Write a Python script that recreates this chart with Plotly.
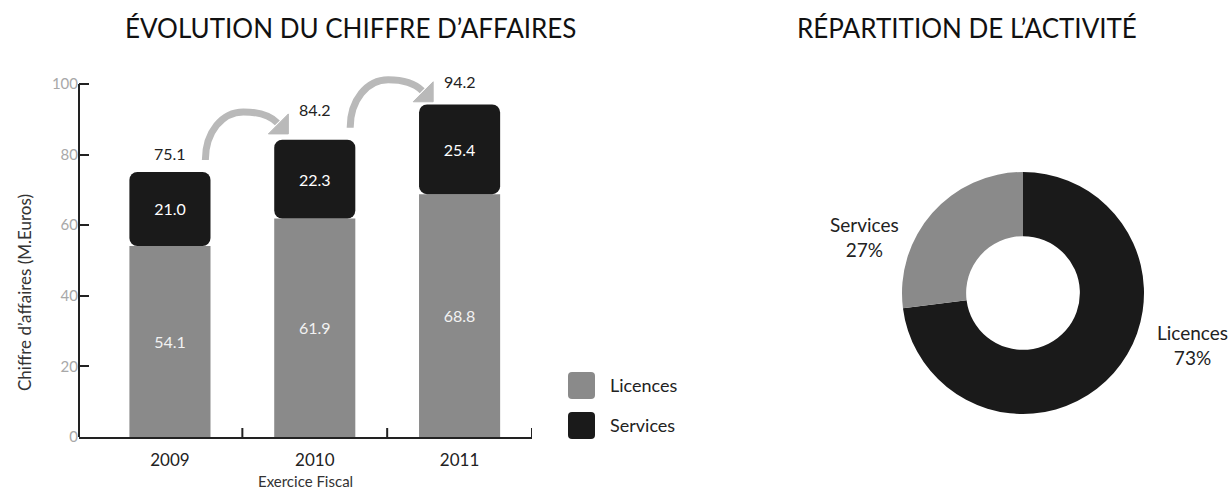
import plotly.graph_objects as go

# Revenue by fiscal year (millions of euros)
years = ["2009", "2010", "2011"]
licences = [54.1, 61.9, 68.8]
services = [21.0, 22.3, 25.4]
totals = [round(a + b, 1) for a, b in zip(licences, services)]

# Activity split (%)
split_labels = ["Licences", "Services"]
split_values = [73, 27]

y_ticks = [0, 20, 40, 60, 80, 100]

GRAY = "#8a8a8a"
BLACK = "#1a1a1a"
ARROW = "#b9b9b9"
FONT = "Lato"

W, H = 1232, 490
xpos = list(range(len(years)))

# y scale: 0 at 437px, 100 at 84px; the plot area reaches higher so the
# arrows above the bars are not clipped
Y_MAX = 104
PX_PER_UNIT = (437 - 84) / 100
plot_top_px = 437 - Y_MAX * PX_PER_UNIT

fig = go.Figure()

fig.add_trace(go.Bar(
    x=xpos, y=licences, width=0.56, name="Licences",
    marker=dict(color=GRAY, line=dict(width=0), cornerradius=8),
    text=[f"{v:.1f}" for v in licences], textposition="inside",
    insidetextanchor="middle", textangle=0,
    textfont=dict(family=FONT, size=16, color="#f2f2f2"),
    showlegend=False, hoverinfo="skip",
))
fig.add_trace(go.Bar(
    x=xpos, y=services, base=licences, width=0.56, name="Services",
    marker=dict(color=BLACK, line=dict(width=0), cornerradius=8),
    text=[f"{v:.1f}" for v in services], textposition="inside",
    insidetextanchor="middle", textangle=0,
    textfont=dict(family=FONT, size=16, color="#ffffff"),
    showlegend=False, hoverinfo="skip",
))

fig.add_trace(go.Pie(
    labels=split_labels, values=split_values, hole=0.47,
    direction="clockwise", rotation=0, sort=False,
    marker=dict(colors=[BLACK, GRAY], line=dict(width=0)),
    textinfo="none", showlegend=False, hoverinfo="skip",
    domain=dict(x=[902 / W, 1144 / W], y=[1 - 414 / H, 1 - 172 / H]),
))

fig.update_layout(
    width=W, height=H, margin=dict(l=0, r=0, t=0, b=0),
    paper_bgcolor="white", plot_bgcolor="white",
    barmode="overlay", font=dict(family=FONT, color="#222"),
    xaxis=dict(
        domain=[79 / W, 532 / W], range=[-0.628, 2.5], automargin=False,
        tickvals=xpos, ticktext=years, ticks="", showgrid=False,
        zeroline=False, showline=True, linecolor="#222", linewidth=2,
        tickfont=dict(family=FONT, size=17, color="#222"),
        ticklabelstandoff=7,
    ),
    yaxis=dict(
        domain=[1 - 437 / H, 1 - plot_top_px / H], range=[0, Y_MAX],
        automargin=False,
        tickvals=y_ticks, ticks="inside", ticklen=10, tickwidth=2,
        tickcolor="#222", showgrid=False, zeroline=False, showline=False,
        tickfont=dict(family=FONT, size=15, color="#a8a8a8"),
    ),
)

shapes = []
annotations = []

# y axis line, stopping at the last tick
shapes.append(dict(type="line", xref="x domain", yref="y", x0=0, x1=0,
                   y0=0, y1=100, line=dict(color="#222", width=2)))

# category boundary ticks on the x axis
for b in [0.5, 1.5, 2.5]:
    shapes.append(dict(type="line", xref="x", yref="y", x0=b, x1=b,
                       ysizemode="pixel", yanchor=0, y0=0, y1=9,
                       line=dict(color="#222", width=2)))

# growth arrows from one year's total to the next
arc = "M -37,12 C -37,40 -20,60 1,60 C 17,60 28,56 35,49"
head = "M 46,58 L 46,38 L 26,38 Z"
for i in range(len(years) - 1):
    common = dict(xref="x", yref="y", xsizemode="pixel", ysizemode="pixel",
                  xanchor=i + 0.5, yanchor=totals[i])
    shapes.append(dict(type="path", path=arc, line=dict(color=ARROW, width=7),
                       **common))
    shapes.append(dict(type="path", path=head, fillcolor=ARROW,
                       line=dict(color=ARROW, width=1), **common))

# totals above the stacks
label_lift_px = [7, 19, 11]
for i, t in enumerate(totals):
    annotations.append(dict(x=i, y=t, xref="x", yref="y", text=f"{t:.1f}",
                            showarrow=False, xanchor="center",
                            yanchor="bottom", yshift=label_lift_px[i],
                            font=dict(family=FONT, size=16, color="#222")))

# legend swatches
def rounded_square(s, r):
    return (f"M {r},0 L {s - r},0 Q {s},0 {s},{r} L {s},{s - r} Q {s},{s} {s - r},{s} "
            f"L {r},{s} Q 0,{s} 0,{s - r} L 0,{r} Q 0,0 {r},0 Z")

for name, color, top in [("Licences", GRAY, 372), ("Services", BLACK, 412)]:
    shapes.append(dict(type="path", xref="paper", yref="paper",
                       xsizemode="pixel", ysizemode="pixel",
                       xanchor=568 / W, yanchor=1 - (top + 27) / H,
                       path=rounded_square(27, 4), fillcolor=color,
                       line=dict(width=0)))
    annotations.append(dict(x=608 / W, y=1 - (top + 13) / H, xref="paper",
                            yref="paper", text=name, showarrow=False,
                            xanchor="left", yanchor="middle",
                            font=dict(family=FONT, size=18, color="#222")))

# donut labels
donut_label_pos = {"Services": (864, 237), "Licences": (1192, 345)}
for name, val in zip(split_labels, split_values):
    px, py = donut_label_pos[name]
    annotations.append(dict(x=px / W, y=1 - py / H, xref="paper", yref="paper",
                            text=f"{name}<br>{val}%", showarrow=False,
                            xanchor="center", yanchor="middle",
                            font=dict(family=FONT, size=19, color="#222")))

# axis titles and panel titles
def centered(x_px, y_px, text, size, color, angle=0):
    return dict(x=x_px / W, y=1 - y_px / H, xref="paper", yref="paper",
                text=text, textangle=angle, showarrow=False,
                xanchor="center", yanchor="middle",
                font=dict(family=FONT, size=size, color=color))

annotations += [
    centered(24, 293, "Chiffre d’affaires (M.Euros)", 17, "#333", -90),
    centered(305, 481, "Exercice Fiscal", 15, "#333"),
    centered(350, 28, "ÉVOLUTION DU CHIFFRE D’AFFAIRES", 26, "#111"),
    centered(967, 28, "RÉPARTITION DE L’ACTIVITÉ", 26, "#111"),
]

fig.update_layout(shapes=shapes, annotations=annotations)
fig.write_html("out.html")
